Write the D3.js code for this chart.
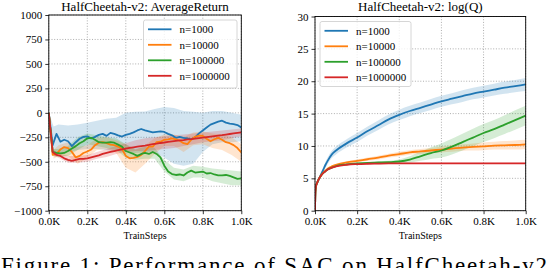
<!DOCTYPE html>
<html>
<head>
<meta charset="utf-8">
<script src="https://cdn.jsdelivr.net/npm/d3@7"></script>
<style>
  body { margin: 0; background: #fff; }
  svg text { font-family: "Liberation Serif", "Times New Roman", Times, "DejaVu Serif", serif !important; fill: #000; }
</style>
</head>
<body>
<script>
// ---- data: left panel, AverageReturn ----
const stepsL = [0,20,40,60,80,100,120,140,160,180,200,220,240,260,280,300,320,340,360,380,400,
  420,440,460,480,500,520,540,560,580,600,620,640,660,680,700,720,740,760,780,800,
  820,840,860,880,900,920,940,960,980,1000];
const retN1e3 = [0,-330,-215,-295,-275,-290,-340,-300,-265,-245,-240,-262,-245,-225,-215,-235,-205,-215,-230,-242,-225,
  -215,-200,-180,-165,-180,-190,-200,-195,-190,-195,-215,-230,-255,-245,-255,-262,-270,-250,-210,-180,
  -150,-120,-105,-90,-80,-100,-110,-115,-125,-150];
const retN1e4 = [0,-430,-420,-375,-350,-360,-400,-455,-440,-410,-395,-375,-330,-305,-300,-310,-325,-330,-345,-370,-440,
  -465,-460,-450,-430,-390,-345,-345,-300,-295,-275,-270,-260,-270,-285,-310,-320,-275,-245,-232,-235,
  -265,-290,-270,-255,-275,-300,-310,-330,-360,-405];
const retN1e5 = [0,-400,-410,-415,-410,-390,-365,-340,-310,-290,-260,-255,-275,-300,-305,-305,-300,-305,-325,-345,-390,
  -405,-420,-440,-420,-410,-420,-400,-420,-455,-540,-600,-625,-635,-630,-640,-610,-590,-610,-605,-600,
  -620,-615,-630,-640,-640,-635,-645,-660,-675,-670];
const retN1e6 = [0,-400,-430,-440,-465,-480,-490,-480,-470,-470,-465,-455,-445,-435,-420,-410,-400,-390,-382,-374,-366,
  -358,-352,-346,-340,-335,-328,-320,-315,-308,-303,-297,-292,-287,-282,-278,-272,-268,-263,-258,-253,
  -248,-243,-238,-233,-228,-222,-216,-210,-205,-200];

// shaded bands (upper / lower edge) of the left panel
const bandStepsL = [0,25,50,100,150,200,250,300,350,400,450,500,550,600,650,700,750,800,850,900,950,1000];
const retN1e3Hi = [0,-140,-120,-130,-120,-100,-80,-60,-50,0,10,15,40,60,50,20,10,0,20,20,0,-20];
const retN1e3Lo = [0,-400,-410,-400,-380,-370,-370,-380,-390,-400,-410,-400,-400,-460,-520,-540,-520,-400,-320,-300,-300,-290];
const retN1e4Hi = [0,-380,-330,-300,-350,-330,-260,-250,-280,-320,-380,-330,-260,-220,-220,-250,-200,-190,-210,-220,-250,-320];
const retN1e4Lo = [0,-470,-440,-440,-520,-460,-380,-370,-410,-560,-610,-520,-420,-340,-340,-400,-330,-320,-360,-380,-430,-500];
const retN1e5Hi = [0,-370,-370,-340,-250,-210,-230,-250,-260,-320,-370,-350,-360,-480,-560,-580,-540,-550,-570,-580,-590,-600];
const retN1e5Lo = [0,-440,-450,-440,-380,-320,-340,-360,-380,-460,-480,-470,-470,-600,-680,-700,-660,-660,-700,-720,-740,-740];
const retN1e6Hi = [0,-380,-410,-440,-440,-430,-400,-370,-340,-310,-280,-260,-250,-240,-230,-220,-210,-200,-190,-180,-170,-160];
const retN1e6Lo = [0,-440,-460,-510,-510,-500,-470,-450,-420,-400,-390,-390,-380,-370,-360,-340,-320,-300,-290,-280,-260,-240];

// ---- data: right panel, log(Q) ----
const stepsR = [0,2,5,10,20,30,40,50,60,80,100,150,200,250,300,350,400,450,500,550,600,650,700,750,800,850,900,950,1000];
const qN1e3 = [0,3.0,3.8,4.3,5.0,5.7,6.4,7.1,7.7,8.7,9.3,10.4,11.3,12.3,13.2,14.1,14.8,15.4,15.9,16.4,16.9,17.3,17.7,18.1,18.4,18.7,19.0,19.25,19.5];
const qN1e4 = [0,3.0,3.8,4.3,5.0,5.5,5.9,6.2,6.5,6.85,7.1,7.45,7.7,7.95,8.2,8.5,8.75,9.0,9.15,9.3,9.45,9.6,9.75,9.85,9.95,10.05,10.1,10.15,10.25];
const qN1e5 = [0,3.0,3.8,4.3,5.0,5.5,5.85,6.1,6.35,6.65,6.9,7.15,7.3,7.4,7.45,7.5,7.6,7.9,8.4,8.9,9.3,9.9,10.6,11.3,12.0,12.6,13.3,14.0,14.7];
const qN1e6 = [0,3.0,3.8,4.3,5.0,5.5,5.85,6.1,6.35,6.65,6.85,7.1,7.2,7.25,7.28,7.3,7.3,7.3,7.3,7.3,7.3,7.3,7.3,7.3,7.3,7.3,7.3,7.3,7.3];
// half width of the shaded band around each curve
const qN1e3Spread = [0,0.1,0.15,0.2,0.3,0.35,0.4,0.45,0.5,0.55,0.6,0.65,0.7,0.7,0.75,0.75,0.8,0.8,0.8,0.85,0.85,0.85,0.9,0.9,0.9,0.9,0.95,0.95,1.0];
const qN1e4Spread = [0,0.05,0.05,0.05,0.1,0.1,0.1,0.1,0.1,0.15,0.15,0.2,0.2,0.25,0.3,0.3,0.35,0.35,0.4,0.4,0.45,0.5,0.5,0.55,0.6,0.6,0.65,0.7,0.7];
const qN1e5Spread = [0,0.05,0.05,0.05,0.1,0.1,0.1,0.1,0.1,0.1,0.1,0.1,0.1,0.1,0.15,0.2,0.3,0.5,0.7,0.9,1.1,1.2,1.3,1.35,1.4,1.4,1.45,1.5,1.5];
const qN1e6Spread = [0,0.05,0.05,0.05,0.1,0.1,0.1,0.1,0.1,0.1,0.1,0.1,0.1,0.1,0.1,0.1,0.1,0.1,0.1,0.1,0.1,0.1,0.1,0.1,0.1,0.1,0.1,0.1,0.1];

const labels = ["n=1000", "n=10000", "n=100000", "n=1000000"];
const colors = ["#1f77b4", "#ff7f0e", "#2ca02c", "#d62728"];
const xTicks = [0, 200, 400, 600, 800, 1000];
const yTicksL = [1000, 750, 500, 250, 0, -250, -500, -750, -1000];
const yTicksR = [0, 5, 10, 15, 20, 25, 30];

const W = 550, H = 268;
const FONT = "'Liberation Serif', 'Times New Roman', Times, 'DejaVu Serif', serif";
const svg = d3.select("body").append("svg")
  .attr("width", W).attr("height", H)
  .attr("viewBox", `0 0 ${W} ${H}`)
  .attr("font-family", FONT);

function fmtK(v) { return (v / 1000).toFixed(1) + "K"; }
function fmtNum(v) { return v < 0 ? "\u2212" + Math.abs(v) : String(v); }

function panel(opt) {
  const x = d3.scaleLinear().domain([0, 1000]).range([opt.left, opt.right]);
  const y = d3.scaleLinear().domain(opt.yDomain).range([opt.bottom, opt.top]);
  const g = svg.append("g");

  // grid
  g.selectAll(".gx").data(xTicks).join("line")
    .attr("x1", d => x(d)).attr("x2", d => x(d))
    .attr("y1", opt.top).attr("y2", opt.bottom)
    .attr("stroke", "#999").attr("stroke-width", 0.8).attr("stroke-dasharray", "1,1.7");
  g.selectAll(".gy").data(opt.yTicks).join("line")
    .attr("y1", d => y(d)).attr("y2", d => y(d))
    .attr("x1", opt.left).attr("x2", opt.right)
    .attr("stroke", "#999").attr("stroke-width", 0.8).attr("stroke-dasharray", "1,1.7");

  const clip = "clip" + opt.id;
  svg.append("clipPath").attr("id", clip).append("rect")
    .attr("x", opt.left).attr("y", opt.top)
    .attr("width", opt.right - opt.left).attr("height", opt.bottom - opt.top);
  const plot = g.append("g").attr("clip-path", `url(#${clip})`);

  opt.series.forEach((s, i) => {
    const area = d3.area().x(d => x(d[0])).y0(d => y(d[1])).y1(d => y(d[2]));
    plot.append("path").datum(s.band)
      .attr("d", area.curve(opt.curve))
      .attr("fill", colors[i]).attr("fill-opacity", 0.2);
  });
  opt.series.forEach((s, i) => {
    const line = d3.line().x(d => x(d[0])).y(d => y(d[1])).curve(opt.curve);
    plot.append("path").datum(s.line)
      .attr("d", line)
      .attr("fill", "none").attr("stroke", colors[i]).attr("stroke-width", 1.8)
      .attr("stroke-linejoin", "round");
  });

  // axes
  const ax = g.append("g").attr("transform", `translate(0,${opt.bottom})`)
    .call(d3.axisBottom(x).tickValues(xTicks).tickFormat(fmtK).tickSize(3.5).tickPadding(3.5));
  const ay = g.append("g").attr("transform", `translate(${opt.left},0)`)
    .call(d3.axisLeft(y).tickValues(opt.yTicks).tickFormat(fmtNum).tickSize(3.5).tickPadding(3));
  [ax, ay].forEach(a => {
    a.attr("font-family", FONT).attr("font-size", 11);
    a.select(".domain").remove();
    a.selectAll("text").attr("fill", "#000");
    a.selectAll("line").attr("stroke", "#000").attr("stroke-width", 0.8);
  });
  g.append("rect")
    .attr("x", opt.left).attr("y", opt.top)
    .attr("width", opt.right - opt.left).attr("height", opt.bottom - opt.top)
    .attr("fill", "none").attr("stroke", "#000").attr("stroke-width", 0.9);

  g.append("text").attr("x", (opt.left + opt.right) / 2).attr("y", 10.5)
    .attr("text-anchor", "middle").attr("font-size", 13).text(opt.title);
  g.append("text").attr("x", (opt.left + opt.right) / 2).attr("y", 239)
    .attr("text-anchor", "middle").attr("font-size", 10).text("TrainSteps");

  // legend
  const lg = g.append("g");
  lg.append("rect").attr("x", opt.leg.x).attr("y", opt.leg.y)
    .attr("width", opt.leg.w).attr("height", opt.leg.h).attr("rx", 2)
    .attr("fill", "#fff").attr("fill-opacity", 0.8).attr("stroke", "#ccc").attr("stroke-width", 0.8);
  labels.forEach((lab, i) => {
    const cy = opt.leg.y + 9.3 + i * 15.5;
    lg.append("line").attr("x1", opt.leg.x + 4.5).attr("x2", opt.leg.x + 28)
      .attr("y1", cy).attr("y2", cy).attr("stroke", colors[i]).attr("stroke-width", 1.8);
    lg.append("text").attr("x", opt.leg.x + 36).attr("y", cy + 3.8)
      .attr("font-size", 11).text(lab);
  });
}

const zip2 = (xs, ys) => xs.map((v, i) => [v, ys[i]]);
const zip3 = (xs, lo, hi) => xs.map((v, i) => [v, lo[i], hi[i]]);
const spreadBand = (xs, ys, sp) => xs.map((v, i) => [v, ys[i] - sp[i], ys[i] + sp[i]]);

panel({
  id: "L", left: 48.8, right: 241.3, top: 15, bottom: 210.7,
  yDomain: [-1000, 1000], yTicks: yTicksL, curve: d3.curveLinear,
  title: "HalfCheetah-v2:  AverageReturn",
  leg: { x: 143.5, y: 20, w: 93.5, h: 68 },
  series: [
    { line: zip2(stepsL, retN1e3), band: zip3(bandStepsL, retN1e3Lo, retN1e3Hi) },
    { line: zip2(stepsL, retN1e4), band: zip3(bandStepsL, retN1e4Lo, retN1e4Hi) },
    { line: zip2(stepsL, retN1e5), band: zip3(bandStepsL, retN1e5Lo, retN1e5Hi) },
    { line: zip2(stepsL, retN1e6), band: zip3(bandStepsL, retN1e6Lo, retN1e6Hi) }
  ]
});

panel({
  id: "R", left: 315, right: 525.7, top: 16.5, bottom: 210.7,
  yDomain: [0, 30], yTicks: yTicksR, curve: d3.curveMonotoneX,
  title: "HalfCheetah-v2:  log(Q)",
  leg: { x: 320, y: 21.5, w: 91, h: 65 },
  series: [
    { line: zip2(stepsR, qN1e3), band: spreadBand(stepsR, qN1e3, qN1e3Spread) },
    { line: zip2(stepsR, qN1e4), band: spreadBand(stepsR, qN1e4, qN1e4Spread) },
    { line: zip2(stepsR, qN1e5), band: spreadBand(stepsR, qN1e5, qN1e5Spread) },
    { line: zip2(stepsR, qN1e6), band: spreadBand(stepsR, qN1e6, qN1e6Spread) }
  ]
});

// caption, cut off by the bottom edge
svg.append("text").attr("x", 1).attr("y", 273)
  .attr("font-size", 23).attr("textLength", 546).attr("lengthAdjust", "spacing")
  .text("Figure 1: Performance of SAC on HalfCheetah-v2");
</script>
</body>
</html>
